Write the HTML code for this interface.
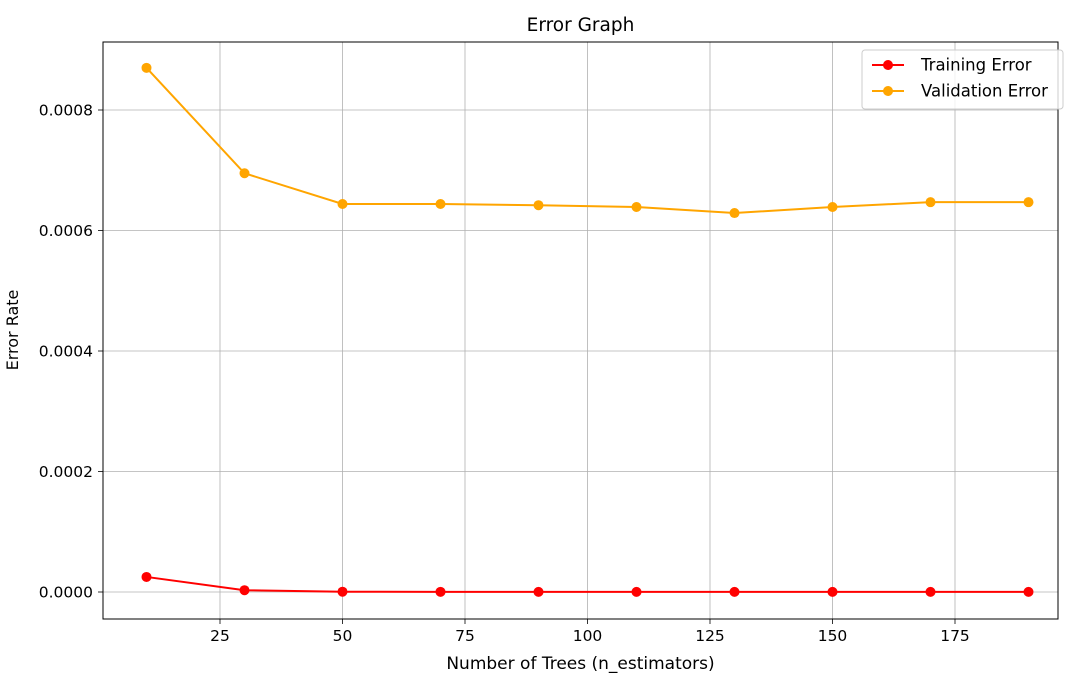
<!DOCTYPE html>
<html><head><meta charset="utf-8"><style>
body{margin:0;background:#fff;}
svg{display:block;font-family:"DejaVu Sans","Liberation Sans",sans-serif;}
</style></head><body>
<svg id="chart" width="1079" height="682"></svg>
<script>
const nEstimators=[10,30,50,70,90,110,130,150,170,190];
const trainingError=[0.000025,0.000003,0.0000005,0.0000003,0.0000002,0.0000002,0.0000002,0.0000002,0.0000002,0.0000002];
const validationError=[0.000870,0.000695,0.000644,0.000644,0.000642,0.000639,0.000629,0.000639,0.000647,0.000647];
const xTicks=[25,50,75,100,125,150,175];
const yTicks=[0,0.0002,0.0004,0.0006,0.0008];
const yTickLabels=["0.0000","0.0002","0.0004","0.0006","0.0008"];

const L=103,R=1058,T=42,B=619;
const xs=v=>146.5+(v-10)*(122.5/25);
const ys=v=>592-v*(120.5/0.0002);
const svg=document.getElementById('chart');
const NS='http://www.w3.org/2000/svg';
function mk(tag,attrs,parent){const e=document.createElementNS(NS,tag);for(const k in attrs)e.setAttribute(k,attrs[k]);(parent||svg).appendChild(e);return e;}

const grid=mk('g',{});


xTicks.forEach(t=>{
  const l=mk('line',{x1:xs(t),x2:xs(t),y1:T,y2:B,stroke:'#b0b0b0','stroke-width':0.8},grid);
  
  
  const tk=mk('line',{x1:xs(t),x2:xs(t),y1:B,y2:B+5,stroke:'#000','stroke-width':0.8});
  
  
  const tx=mk('text',{x:xs(t),y:B+22,'text-anchor':'middle','font-size':15.5,fill:'#000'});
  tx.textContent=t;
  
  
});
yTicks.forEach((t,i)=>{
  const l=mk('line',{x1:L,x2:R,y1:ys(t),y2:ys(t),stroke:'#b0b0b0','stroke-width':0.8},grid);
  
  
  const tk=mk('line',{x1:L-5,x2:L,y1:ys(t),y2:ys(t),stroke:'#000','stroke-width':0.8});
  
  
  const tx=mk('text',{x:L-10,y:ys(t)+5.5,'text-anchor':'end','font-size':15.5,fill:'#000'});
  tx.textContent=yTickLabels[i];
  
  
});

function series(vals,color,name){
  const g=mk('g',{});
  
  
  const pts=vals.map((v,i)=>xs(nEstimators[i])+','+ys(v)).join(' ');
  const pl=mk('polyline',{points:pts,fill:'none',stroke:color,'stroke-width':2},g);
  
  
  vals.forEach((v,i)=>{
    const c=mk('circle',{cx:xs(nEstimators[i]),cy:ys(v),r:5,fill:color},g);
    
    
  });
}
series(trainingError,'#ff0000','training-error');
series(validationError,'#ffa500','validation-error');

const frame=mk('rect',{x:L,y:T,width:R-L,height:B-T,fill:'none',stroke:'#000','stroke-width':1});



const title=mk('text',{x:(L+R)/2,y:31,'text-anchor':'middle','font-size':18.5,fill:'#000'});
title.textContent='Error Graph';


const xl=mk('text',{x:(L+R)/2,y:669,'text-anchor':'middle','font-size':17,fill:'#000'});
xl.textContent='Number of Trees (n_estimators)';


const yl=mk('text',{x:18,y:330,'text-anchor':'middle','font-size':16,fill:'#000',transform:'rotate(-90 18 330)'});
yl.textContent='Error Rate';



const lg=mk('g',{});


mk('rect',{x:862,y:50,width:201,height:59,rx:3,fill:'#fff',stroke:'#ccc','fill-opacity':0.8},lg);
[['Training Error','#ff0000',65],['Validation Error','#ffa500',91]].forEach(([n,c,y])=>{
  const e=mk('g',{},lg);
  
  
  mk('line',{x1:872,x2:904,y1:y,y2:y,stroke:c,'stroke-width':2},e);
  mk('circle',{cx:888,cy:y,r:5,fill:c},e);
  const t=mk('text',{x:921,y:y+5.5,'font-size':16.5,fill:'#000'},e);
  t.textContent=n;
});
</script>
</body></html>
